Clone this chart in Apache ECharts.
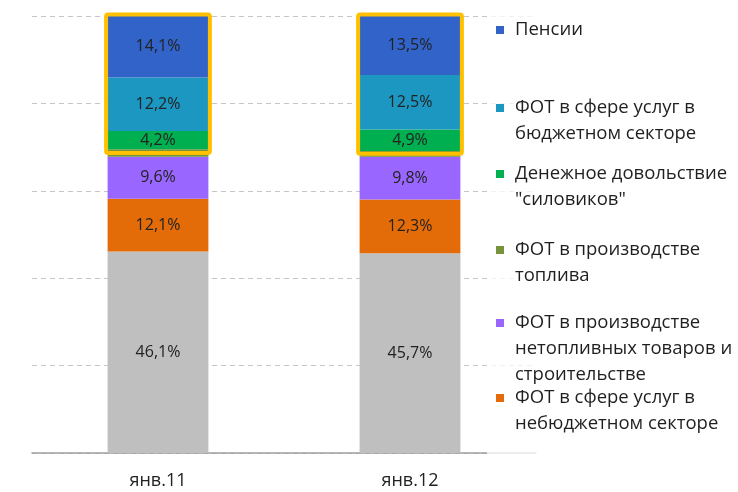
<!DOCTYPE html>
<html>
<head>
<meta charset="utf-8">
<script src="https://cdn.jsdelivr.net/npm/echarts@6/dist/echarts.min.js"></script>
<style>
  html, body { margin: 0; padding: 0; background: #fff; }
  #chart { width: 738px; height: 492px; }
</style>
</head>
<body>
<div id="chart"></div>
<script>
var categories = ['янв.11', 'янв.12']
var other = [46.1, 45.7]
var nonBudgetServices = [12.1, 12.3]
var nonFuelProduction = [9.6, 9.8]
var fuelProduction = [1.7, 1.3]
var siloviki = [4.2, 4.9]
var budgetServices = [12.2, 12.5]
var pensions = [14.1, 13.5]

var FONT = '"Open Sans", "Noto Sans", sans-serif'

// legend: name (with line breaks), colour, y of the first line
var legendItems = [
  { name: 'Пенсии', color: '#3163c8', y: 30 },
  { name: 'ФОТ в сфере услуг в\nбюджетном секторе', color: '#1c97c2', y: 108 },
  { name: 'Денежное довольствие\n"силовиков"', color: '#00b050', y: 174 },
  { name: 'ФОТ в производстве\nтоплива', color: '#77933c', y: 250 },
  { name: 'ФОТ в производстве\nнетопливных товаров и\nстроительстве', color: '#9966ff', y: 323 },
  { name: 'ФОТ в сфере услуг в\nнебюджетном секторе', color: '#e36c09', y: 398 }
]
var LH = 26

function fmt (p) {
  return p.value.toFixed(1).replace('.', ',') + '%'
}

function barSeries (name, data, color, showLabel) {
  return {
    name: name,
    type: 'bar',
    stack: 'total',
    barWidth: '40%',
    data: data,
    itemStyle: { color: color },
    label: {
      show: showLabel,
      position: 'inside',
      formatter: fmt,
      color: '#222',
      fontSize: 16,
      fontFamily: FONT
    }
  }
}

// bounds of the highlighted (budget) block per category
var boxData = categories.map(function (c, i) {
  var lo = other[i] + nonBudgetServices[i] + nonFuelProduction[i] + fuelProduction[i] / 2
  var hi = lo + fuelProduction[i] / 2 + siloviki[i] + budgetServices[i] + pensions[i]
  return [i, lo, hi]
})

// legend icon sits at the middle of the text block, so blank lines are
// put in front to bring it level with the first line
var legends = legendItems.map(function (it) {
  var n = it.name.split('\n').length
  var h = (2 * n - 1) * LH
  return {
    top: it.y - h / 2,
    left: 496,
    padding: 0,
    orient: 'vertical',
    selectedMode: false,
    icon: 'rect',
    itemWidth: 8,
    itemHeight: 8,
    data: [it.name],
    formatter: function (name) {
      return new Array(n).join('\n') + name
    },
    textStyle: {
      fontFamily: FONT,
      fontSize: 18.5,
      color: '#1f1f1f',
      lineHeight: LH,
      padding: [0, 0, 0, 6]
    }
  }
})

var chart = echarts.init(document.getElementById('chart'))
chart.setOption({
  animation: false,
  grid: { left: 32, right: 202, top: 16, bottom: 39 },
  legend: legends,
  graphic: [{
    type: 'rect',
    z: 3,
    shape: { x: 487, y: 4, width: 251, height: 470 },
    style: { fill: 'rgba(255,255,255,0.75)' }
  }],
  xAxis: {
    type: 'category',
    data: categories,
    axisLine: { lineStyle: { color: '#9e9e9e', width: 1.5 } },
    axisTick: { length: 6, lineStyle: { color: '#9e9e9e' } },
    axisLabel: { fontFamily: FONT, fontSize: 18, color: '#222', margin: 19 }
  },
  yAxis: {
    type: 'value',
    min: 0,
    max: 100,
    interval: 20,
    axisLabel: { show: false },
    axisLine: { show: false },
    axisTick: { show: false },
    splitLine: { lineStyle: { color: '#c6c6c6', type: [5, 4] } }
  },
  series: [
    barSeries('Прочие', other, '#bfbfbf', true),
    barSeries(legendItems[5].name, nonBudgetServices, legendItems[5].color, true),
    barSeries(legendItems[4].name, nonFuelProduction, legendItems[4].color, true),
    barSeries(legendItems[3].name, fuelProduction, legendItems[3].color, false),
    barSeries(legendItems[2].name, siloviki, legendItems[2].color, true),
    barSeries(legendItems[1].name, budgetServices, legendItems[1].color, true),
    barSeries(legendItems[0].name, pensions, legendItems[0].color, true),
    {
      type: 'custom',
      z: 3,
      data: boxData,
      encode: { x: 0, y: [1, 2] },
      renderItem: function (params, api) {
        var lo = api.coord([api.value(0), api.value(1)])
        var hi = api.coord([api.value(0), api.value(2)])
        var w = api.size([1, 0])[0] * 0.4
        return {
          type: 'rect',
          shape: { x: lo[0] - w / 2 - 1.5, y: hi[1] - 1.5, width: w + 3, height: lo[1] - hi[1] + 1.5, r: 2 },
          style: { fill: 'none', stroke: '#ffc000', lineWidth: 4 }
        }
      }
    }
  ]
})
</script>
</body>
</html>
